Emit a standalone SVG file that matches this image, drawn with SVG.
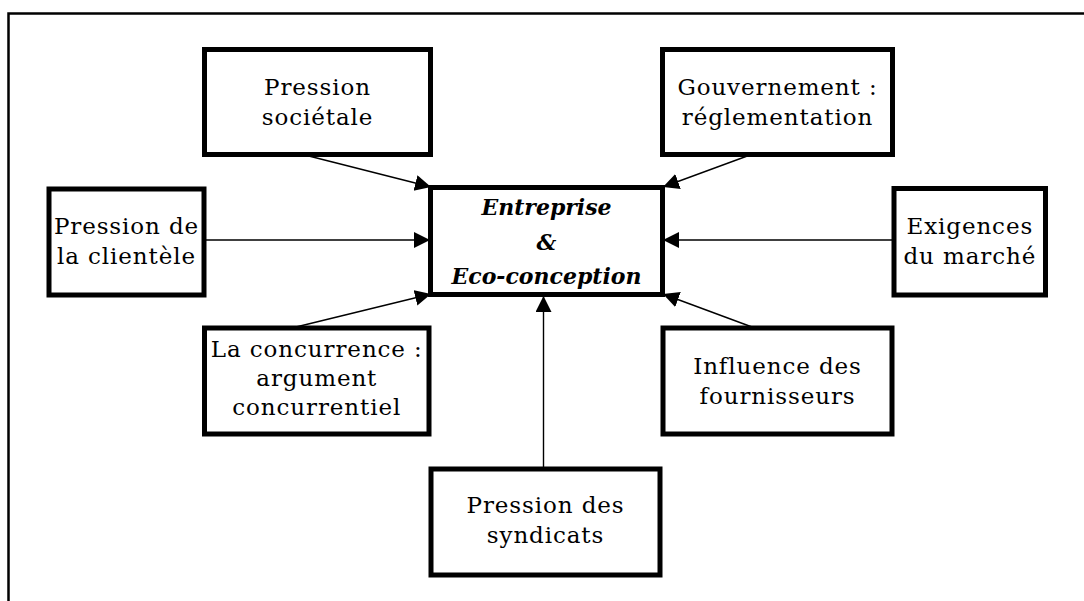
<svg xmlns="http://www.w3.org/2000/svg" width="1084" height="601" viewBox="0 0 1084 601">
<style>
.box{fill:#fff;stroke:#000;stroke-width:5}
.t{font-family:"DejaVu Serif","Liberation Serif",serif;font-size:23px;letter-spacing:0.9px;text-anchor:middle;fill:#000}
.c{font-family:"DejaVu Serif","Liberation Serif",serif;font-size:22px;font-weight:bold;font-style:italic;text-anchor:middle;fill:#000}
.ln{stroke:#000;stroke-width:1.4;fill:none;marker-end:url(#ah)}
</style>
<defs>
<marker id="ah" markerUnits="userSpaceOnUse" markerWidth="18" markerHeight="18" refX="16" refY="8" orient="auto">
<path d="M0,0 L16,8 L0,16 Z" fill="#000"/>
</marker>
</defs>
<rect width="1084" height="601" fill="#fff"/>
<path d="M8.5,601 V13.5 H1084" fill="none" stroke="#000" stroke-width="2.5"/>
<g id="connectors">
<line class="ln" x1="297" y1="153" x2="431" y2="187"/>
<line class="ln" x1="750" y1="155" x2="663" y2="187"/>
<line class="ln" x1="204" y1="240" x2="430" y2="240"/>
<line class="ln" x1="894" y1="240" x2="663" y2="240"/>
<line class="ln" x1="296" y1="327" x2="431" y2="294"/>
<line class="ln" x1="752" y1="327" x2="663" y2="294"/>
<line class="ln" x1="543.5" y1="469" x2="543.5" y2="296"/>
</g>
<g id="center">
<rect class="box" x="430.5" y="187.5" width="232" height="107"/>
<text class="c" x="546.5" y="215">Entreprise</text>
<text class="c" x="546.5" y="250">&amp;</text>
<text class="c" x="546.5" y="284">Eco-conception</text>
</g>
<g id="societale">
<rect class="box" x="204.5" y="49.5" width="226" height="105"/>
<text class="t" x="317.5" y="95">Pression</text>
<text class="t" x="317.5" y="125">sociétale</text>
</g>
<g id="gouvernement">
<rect class="box" x="662.5" y="49.5" width="230" height="105"/>
<text class="t" x="777.5" y="95">Gouvernement :</text>
<text class="t" x="777.5" y="125">réglementation</text>
</g>
<g id="clientele">
<rect class="box" x="49" y="189" width="155" height="106"/>
<text class="t" x="126.5" y="234">Pression de</text>
<text class="t" x="126.5" y="264">la clientèle</text>
</g>
<g id="marche">
<rect class="box" x="894" y="188.5" width="151.5" height="106.5"/>
<text class="t" x="969.8" y="234">Exigences</text>
<text class="t" x="969.8" y="264">du marché</text>
</g>
<g id="concurrence">
<rect class="box" x="204.5" y="328" width="224.5" height="106"/>
<text class="t" x="316.8" y="357">La concurrence :</text>
<text class="t" x="316.8" y="386">argument</text>
<text class="t" x="316.8" y="415">concurrentiel</text>
</g>
<g id="fournisseurs">
<rect class="box" x="663" y="328" width="229" height="106"/>
<text class="t" x="777.5" y="374">Influence des</text>
<text class="t" x="777.5" y="404">fournisseurs</text>
</g>
<g id="syndicats">
<rect class="box" x="431" y="469" width="229" height="106"/>
<text class="t" x="545.5" y="513">Pression des</text>
<text class="t" x="545.5" y="543">syndicats</text>
</g>
</svg>
